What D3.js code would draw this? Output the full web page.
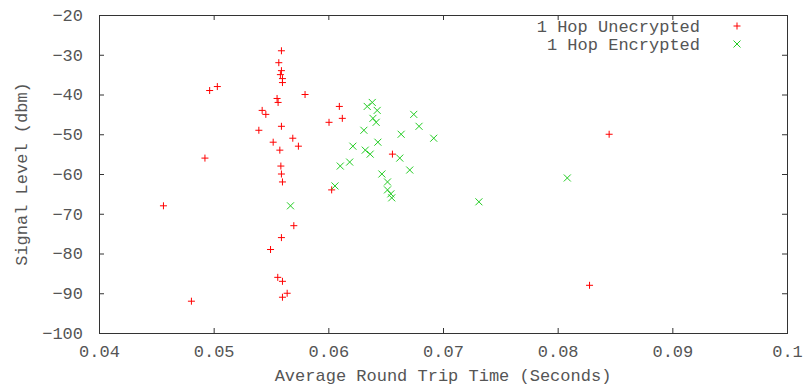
<!DOCTYPE html>
<html>
<head>
<meta charset="utf-8">
<script src="https://cdn.jsdelivr.net/npm/d3@7"></script>
<style>
  body { margin: 0; background: #fff; }
  text { font-family: "Courier New", "Nimbus Mono PS", "FreeMono", "Liberation Mono", monospace; font-size: 17px; fill: #555; }
</style>
</head>
<body>
<script>
const width = 807;
const height = 387;
const margin = { top: 15, right: 20, bottom: 54, left: 99 };

// 1 Hop Unecrypted: [rtt seconds, dbm]
const unencrypted = [
  [0.05591, -29], [0.05568, -32], [0.05591, -34], [0.05582, -35], [0.05600, -36],
  [0.05600, -37], [0.04965, -39], [0.05032, -38], [0.05797, -40], [0.05553, -41],
  [0.05562, -42], [0.06096, -43], [0.05423, -44], [0.05455, -45], [0.06006, -47],
  [0.06122, -46], [0.05591, -48], [0.05394, -49], [0.05690, -51], [0.05519, -52],
  [0.05739, -53], [0.05577, -54], [0.04924, -56], [0.05586, -58], [0.05591, -60],
  [0.05600, -62], [0.06029, -64], [0.06559, -55], [0.04562, -68], [0.05699, -73],
  [0.05591, -76], [0.05496, -79], [0.05559, -86], [0.05600, -87], [0.05641, -90],
  [0.05600, -91], [0.04806, -92], [0.08449, -50], [0.08278, -88],
];

// 1 Hop Encrypted
const encrypted = [
  [0.06383, -42], [0.06339, -43], [0.06426, -44], [0.06389, -46], [0.06417, -47],
  [0.06745, -45], [0.06791, -48], [0.06310, -49], [0.06635, -50], [0.06919, -51],
  [0.06432, -52], [0.06214, -53], [0.06322, -54], [0.06365, -55], [0.06623, -56],
  [0.06186, -57], [0.06104, -58], [0.06710, -59], [0.06467, -60], [0.06516, -62],
  [0.06516, -64], [0.06545, -65], [0.06553, -66], [0.06058, -63], [0.05670, -68],
  [0.08084, -61], [0.07313, -67],
];

const xTicks = [0.04, 0.05, 0.06, 0.07, 0.08, 0.09, 0.1];
const yTicks = [-100, -90, -80, -70, -60, -50, -40, -30, -20];
const seriesNames = ['1 Hop Unecrypted', '1 Hop Encrypted'];
const seriesColors = ['#ff0000', '#22cc22'];

const svg = d3.select('body').append('svg')
  .attr('width', width)
  .attr('height', height);

const x = d3.scaleLinear().domain([0.04, 0.1]).range([margin.left, width - margin.right]);
const y = d3.scaleLinear().domain([-100, -20]).range([height - margin.bottom, margin.top]);

const tickLen = 5;
const axisColor = '#333';

// bottom / top ticks (gnuplot style, inward, mirrored)
svg.append('g')
  .attr('transform', `translate(0,${y(-100)})`)
  .call(d3.axisBottom(x).tickValues(xTicks).tickSizeInner(-tickLen).tickSizeOuter(0)
    .tickPadding(12).tickFormat(d => String(d)))
  .call(g => g.select('.domain').remove())
  .call(g => g.selectAll('line').attr('stroke', axisColor))
  .call(g => g.selectAll('text').attr('font-family', null).attr('font-size', null).attr('fill', null));

svg.append('g')
  .attr('transform', `translate(0,${y(-20)})`)
  .call(d3.axisTop(x).tickValues(xTicks).tickSizeInner(-tickLen).tickSizeOuter(0).tickFormat(''))
  .call(g => g.select('.domain').remove())
  .call(g => g.selectAll('line').attr('stroke', axisColor));

svg.append('g')
  .attr('transform', `translate(${x(0.04)},0)`)
  .call(d3.axisLeft(y).tickValues(yTicks).tickSizeInner(-tickLen).tickSizeOuter(0).tickPadding(16))
  .call(g => g.select('.domain').remove())
  .call(g => g.selectAll('line').attr('stroke', axisColor))
  .call(g => g.selectAll('text').attr('font-family', null).attr('font-size', null).attr('fill', null));

svg.append('g')
  .attr('transform', `translate(${x(0.1)},0)`)
  .call(d3.axisRight(y).tickValues(yTicks).tickSizeInner(-tickLen).tickSizeOuter(0).tickFormat(''))
  .call(g => g.select('.domain').remove())
  .call(g => g.selectAll('line').attr('stroke', axisColor));

// frame
svg.append('rect')
  .attr('x', x(0.04) + 0.5)
  .attr('y', y(-20) + 0.5)
  .attr('width', x(0.1) - x(0.04))
  .attr('height', y(-100) - y(-20))
  .attr('fill', 'none')
  .attr('stroke', axisColor)
  .attr('stroke-width', 1);

// axis titles
svg.append('text')
  .attr('x', (x(0.04) + x(0.1)) / 2)
  .attr('y', 381)
  .attr('text-anchor', 'middle')
  .text('Average Round Trip Time (Seconds)');

svg.append('text')
  .attr('transform', `translate(27,${(y(-20) + y(-100)) / 2}) rotate(-90)`)
  .attr('text-anchor', 'middle')
  .text('Signal Level (dbm)');

const s = 3.5;
const plusPath = `M${-s},0H${s}M0,${-s}V${s}`;
const crossPath = `M${-s},${-s}L${s},${s}M${-s},${s}L${s},${-s}`;

svg.append('g').selectAll('path')
  .data(unencrypted)
  .join('path')
  .attr('transform', d => `translate(${x(d[0])},${y(d[1])})`)
  .attr('d', plusPath)
  .attr('stroke', seriesColors[0])
  .attr('stroke-width', 1);

svg.append('g').selectAll('path')
  .data(encrypted)
  .join('path')
  .attr('transform', d => `translate(${x(d[0])},${y(d[1])})`)
  .attr('d', crossPath)
  .attr('stroke', seriesColors[1])
  .attr('stroke-width', 1);

// legend
const legend = svg.append('g');
seriesNames.forEach((name, i) => {
  const ly = 26 + i * 18;
  legend.append('text')
    .attr('x', 700)
    .attr('y', ly)
    .attr('dy', '0.35em')
    .attr('text-anchor', 'end')
    .text(name);
  legend.append('path')
    .attr('transform', `translate(737,${ly})`)
    .attr('d', i === 0 ? plusPath : crossPath)
    .attr('stroke', seriesColors[i])
    .attr('stroke-width', 1);
});
</script>
</body>
</html>
